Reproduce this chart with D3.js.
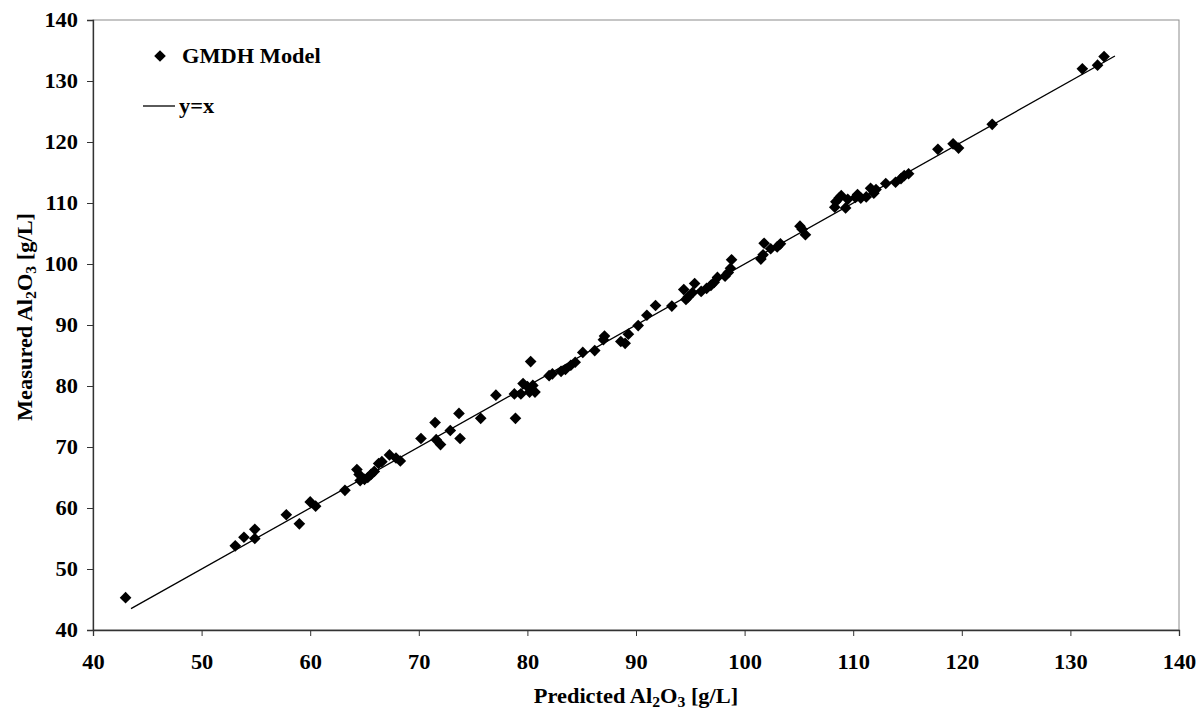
<!DOCTYPE html>
<html>
<head>
<script src="https://cdn.jsdelivr.net/npm/d3@7"></script>
<style>
  body { margin: 0; background: #fff; }
  text { font-family: "Liberation Serif", "Times New Roman", serif; font-weight: bold; }
</style>
</head>
<body>
<script>
// predicted (x) and measured (y) Al2O3, g/L
var predicted = [43.0, 53.1, 53.9, 54.9, 54.9, 57.8, 59.0, 60.0, 60.5, 63.2,
  64.3, 64.5, 64.6, 65.0, 65.3, 65.6, 65.9, 66.3, 66.6, 67.3,
  67.9, 68.3, 70.2, 71.5, 71.6, 72.0, 72.9, 73.7, 73.8, 75.7,
  77.1, 78.8, 78.9, 79.4, 79.6, 80.0, 80.2, 80.3, 80.5, 80.7,
  82.0, 82.3, 83.1, 83.5, 84.0, 84.4, 85.1, 86.2, 87.0, 87.1,
  88.6, 89.0, 89.3, 90.2, 91.0, 91.8, 93.3, 94.4, 94.6, 94.8,
  95.2, 95.4, 96.0, 96.5, 96.9, 97.2, 97.5, 98.2, 98.5, 98.7,
  98.8, 101.5, 101.7, 101.8, 102.4, 103.0, 103.3, 105.1, 105.3, 105.6,
  108.3, 108.4, 108.7, 108.9, 109.3, 109.5, 110.2, 110.4, 110.7, 111.2,
  111.6, 111.9, 112.1, 113.0, 113.9, 114.4, 114.7, 115.1, 117.8, 119.2,
  119.7, 122.8, 131.1, 132.5, 133.1];
var measured = [45.3, 53.8, 55.2, 56.5, 55.0, 58.9, 57.4, 61.0, 60.3, 62.9,
  66.3, 65.5, 64.5, 64.7, 65.0, 65.5, 66.0, 67.3, 67.6, 68.7,
  68.2, 67.7, 71.4, 74.0, 71.2, 70.4, 72.7, 75.5, 71.4, 74.7,
  78.5, 78.7, 74.7, 78.7, 80.4, 79.9, 79.0, 84.0, 80.1, 79.0,
  81.7, 82.0, 82.4, 82.7, 83.4, 83.9, 85.5, 85.8, 87.6, 88.2,
  87.3, 87.0, 88.5, 89.9, 91.6, 93.2, 93.1, 95.8, 94.2, 94.6,
  95.3, 96.8, 95.5, 96.0, 96.5, 97.0, 97.8, 98.0, 98.6, 99.3,
  100.7, 100.8, 101.5, 103.4, 102.5, 102.8, 103.3, 106.2, 105.7, 104.8,
  109.3, 110.2, 110.8, 111.2, 109.2, 110.6, 110.9, 111.4, 110.8, 111.0,
  112.4, 111.6, 112.2, 113.2, 113.4, 114.0, 114.5, 114.8, 118.8, 119.7,
  119.0, 122.9, 132.0, 132.6, 134.0];
var lineEnds = [43.5, 134.1];
var xTicks = [40, 50, 60, 70, 80, 90, 100, 110, 120, 130, 140];
var yTicks = [40, 50, 60, 70, 80, 90, 100, 110, 120, 130, 140];

var width = 1198, height = 711;
var plotLeft = 93, plotRight = 1179, plotTop = 20, plotBottom = 630;
var fontPx = 20;

var svg = d3.select('body').append('svg')
    .attr('width', width)
    .attr('height', height);

var x = d3.scaleLinear().domain([40, 140]).range([plotLeft, plotRight]);
var y = d3.scaleLinear().domain([40, 140]).range([plotBottom, plotTop]);

// the original glyphs are a little wider than plain Times
function widen(sel) {
  sel.each(function () {
    var w = this.getComputedTextLength();
    d3.select(this).attr('textLength', w * 1.12).attr('lengthAdjust', 'spacingAndGlyphs');
  });
}

// plot frame (top and right)
svg.append('rect')
    .attr('x', plotLeft).attr('y', plotTop)
    .attr('width', plotRight - plotLeft).attr('height', plotBottom - plotTop)
    .attr('fill', 'none').attr('stroke', '#8c8c8c').attr('stroke-width', 1);

var xAxis = svg.append('g')
    .attr('transform', 'translate(0,' + plotBottom + ')')
    .call(d3.axisBottom(x).tickValues(xTicks).tickSizeOuter(0).tickSize(6).tickPadding(19));
var yAxis = svg.append('g')
    .attr('transform', 'translate(' + plotLeft + ',0)')
    .call(d3.axisLeft(y).tickValues(yTicks).tickSizeOuter(0).tickSize(6).tickPadding(9));

[xAxis, yAxis].forEach(function (a) {
  a.select('.domain').attr('stroke', '#333').attr('stroke-width', 1.3);
  a.selectAll('.tick line').attr('stroke', '#333');
  a.selectAll('.tick text').attr('fill', '#000')
      .attr('font-size', fontPx).attr('font-weight', 'bold')
      .attr('font-family', '"Liberation Serif", serif')
      .call(widen);
});

// y = x line
svg.append('line')
    .attr('x1', x(lineEnds[0])).attr('y1', y(lineEnds[0]))
    .attr('x2', x(lineEnds[1])).attr('y2', y(lineEnds[1]))
    .attr('stroke', '#000').attr('stroke-width', 1.3);

var diamond = d3.symbol().type(d3.symbolSquare).size(68);

svg.selectAll('path.pt')
    .data(predicted)
    .enter()
    .append('path')
    .attr('class', 'pt')
    .attr('d', diamond)
    .attr('transform', function (d, i) {
      return 'translate(' + x(d) + ',' + y(measured[i]) + ') rotate(45)';
    })
    .attr('fill', '#000');

// legend
svg.append('path')
    .attr('d', diamond)
    .attr('transform', 'translate(160,56) rotate(45)')
    .attr('fill', '#000');
svg.append('text').attr('x', 182).attr('y', 63).style('font-size', fontPx + 'px')
    .text('GMDH Model').call(widen);
svg.append('line')
    .attr('x1', 143).attr('x2', 175).attr('y1', 106).attr('y2', 106)
    .attr('stroke', '#000').attr('stroke-width', 1.3);
svg.append('text').attr('x', 179).attr('y', 113).style('font-size', fontPx + 'px')
    .text('y=x').call(widen);

// axis titles
function chemTitle(t, label) {
  t.append('tspan').text(label + ' Al');
  t.append('tspan').attr('dy', 4).style('font-size', '14px').text('2');
  t.append('tspan').attr('dy', -4).text('O');
  t.append('tspan').attr('dy', 4).style('font-size', '14px').text('3');
  t.append('tspan').attr('dy', -4).text(' [g/L]');
  widen(t);
}

var xt = svg.append('text')
    .attr('x', (plotLeft + plotRight) / 2).attr('y', 703)
    .attr('text-anchor', 'middle').style('font-size', fontPx + 'px');
chemTitle(xt, 'Predicted');

var yt = svg.append('text')
    .attr('transform', 'translate(32,317) rotate(-90)')
    .attr('text-anchor', 'middle').style('font-size', fontPx + 'px');
chemTitle(yt, 'Measured');
</script>
</body>
</html>
